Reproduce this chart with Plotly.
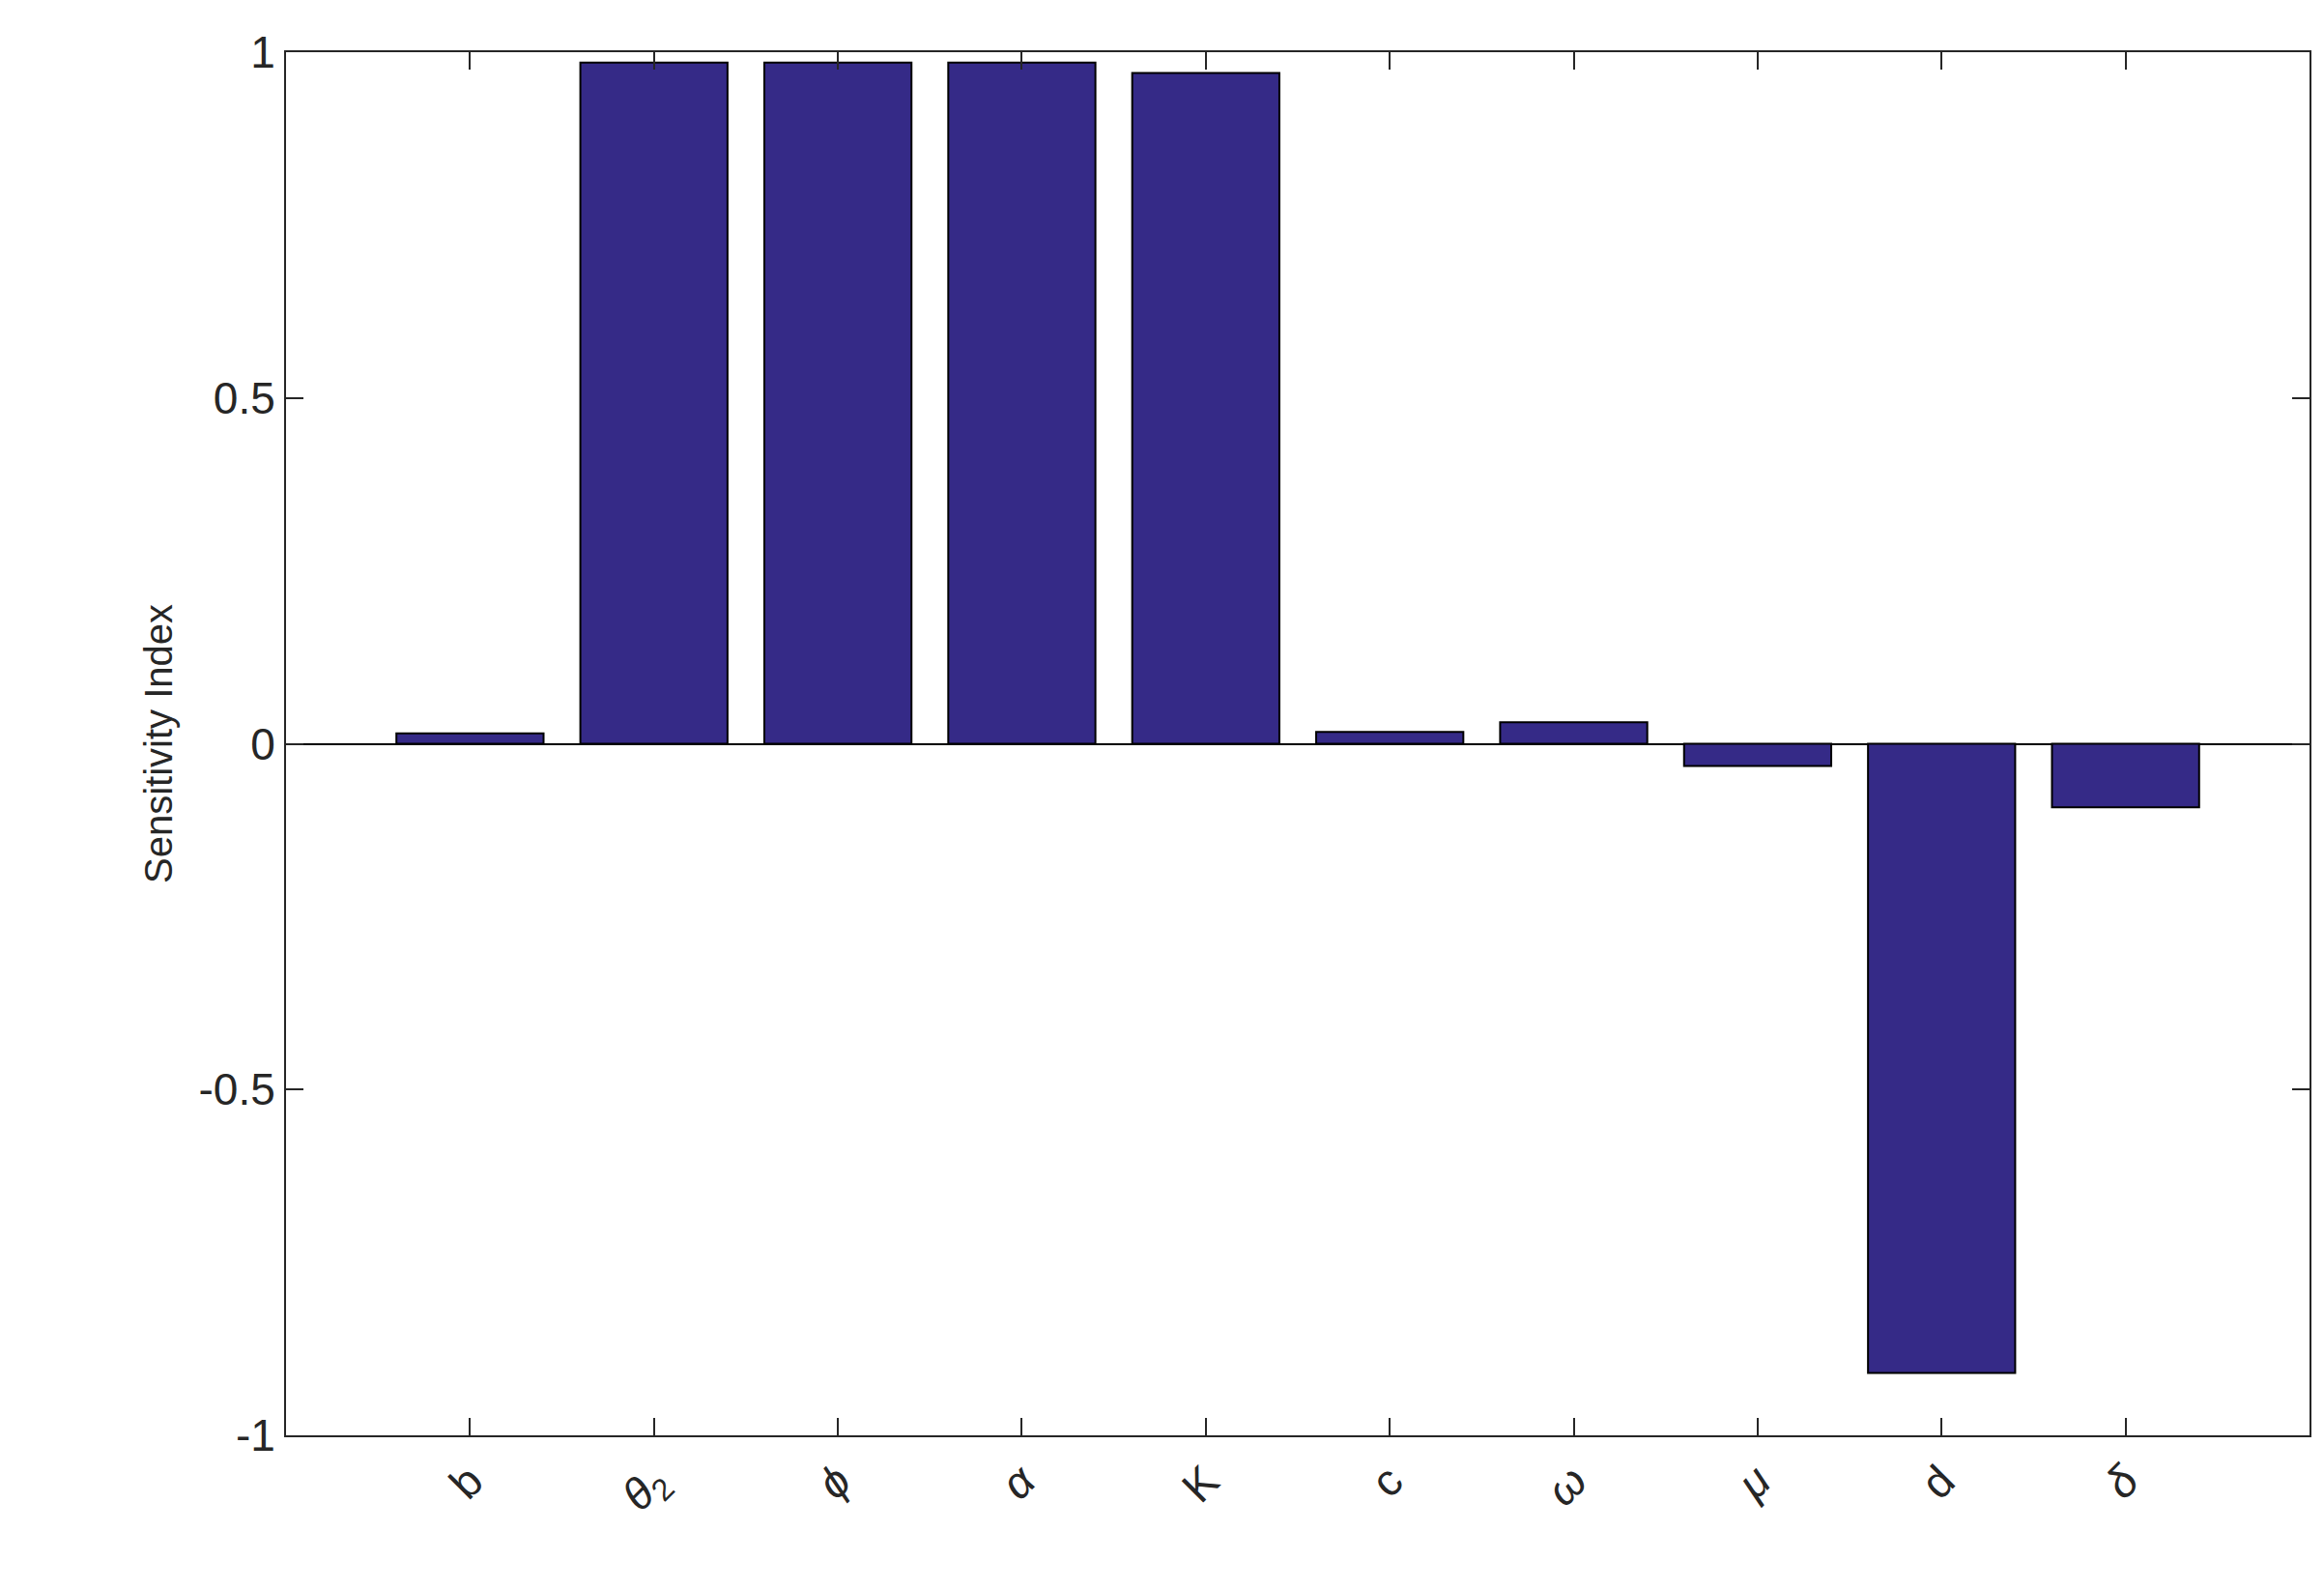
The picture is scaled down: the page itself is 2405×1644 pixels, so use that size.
import plotly.graph_objects as go

labels = ["b", "<i>θ</i><sub>2</sub>", "<i>ϕ</i>", "<i>α</i>", "K", "c", "<i>ω</i>", "<i>μ</i>", "d", "<i>δ</i>"]
values = [0.015, 0.985, 0.985, 0.985, 0.97, 0.017, 0.031, -0.032, -0.91, -0.092]
positions = list(range(1, 11))

fig = go.Figure(go.Bar(x=positions, y=values, width=0.8,
                       marker=dict(color="#352a87", line=dict(color="black", width=2))))
fig.update_layout(
    width=2405, height=1644, plot_bgcolor="white", paper_bgcolor="white",
    margin=dict(l=288, r=23, t=46, b=167),
    font=dict(family="Liberation Sans, Arial", color="#262626", size=46),
    showlegend=False,
)
fig.update_xaxes(range=[0, 11], tickvals=positions, ticktext=labels, tickangle=-45,
                 showline=True, linecolor="#262626", linewidth=2, mirror="ticks",
                 ticks="inside", ticklen=18, tickwidth=2, tickcolor="#262626", showgrid=False,
                 zeroline=False)
fig.update_yaxes(range=[-1, 1], tickvals=[-1, -0.5, 0, 0.5, 1], ticktext=["-1", "-0.5", "0", "0.5", "1"],
                 showline=True, linecolor="#262626", linewidth=2, mirror="ticks",
                 ticks="inside", ticklen=18, tickwidth=2, tickcolor="#262626", showgrid=False,
                 zeroline=True, zerolinecolor="black", zerolinewidth=2,
                 title=dict(text="Sensitivity Index", font=dict(size=40)))
fig.write_html("out.html")
